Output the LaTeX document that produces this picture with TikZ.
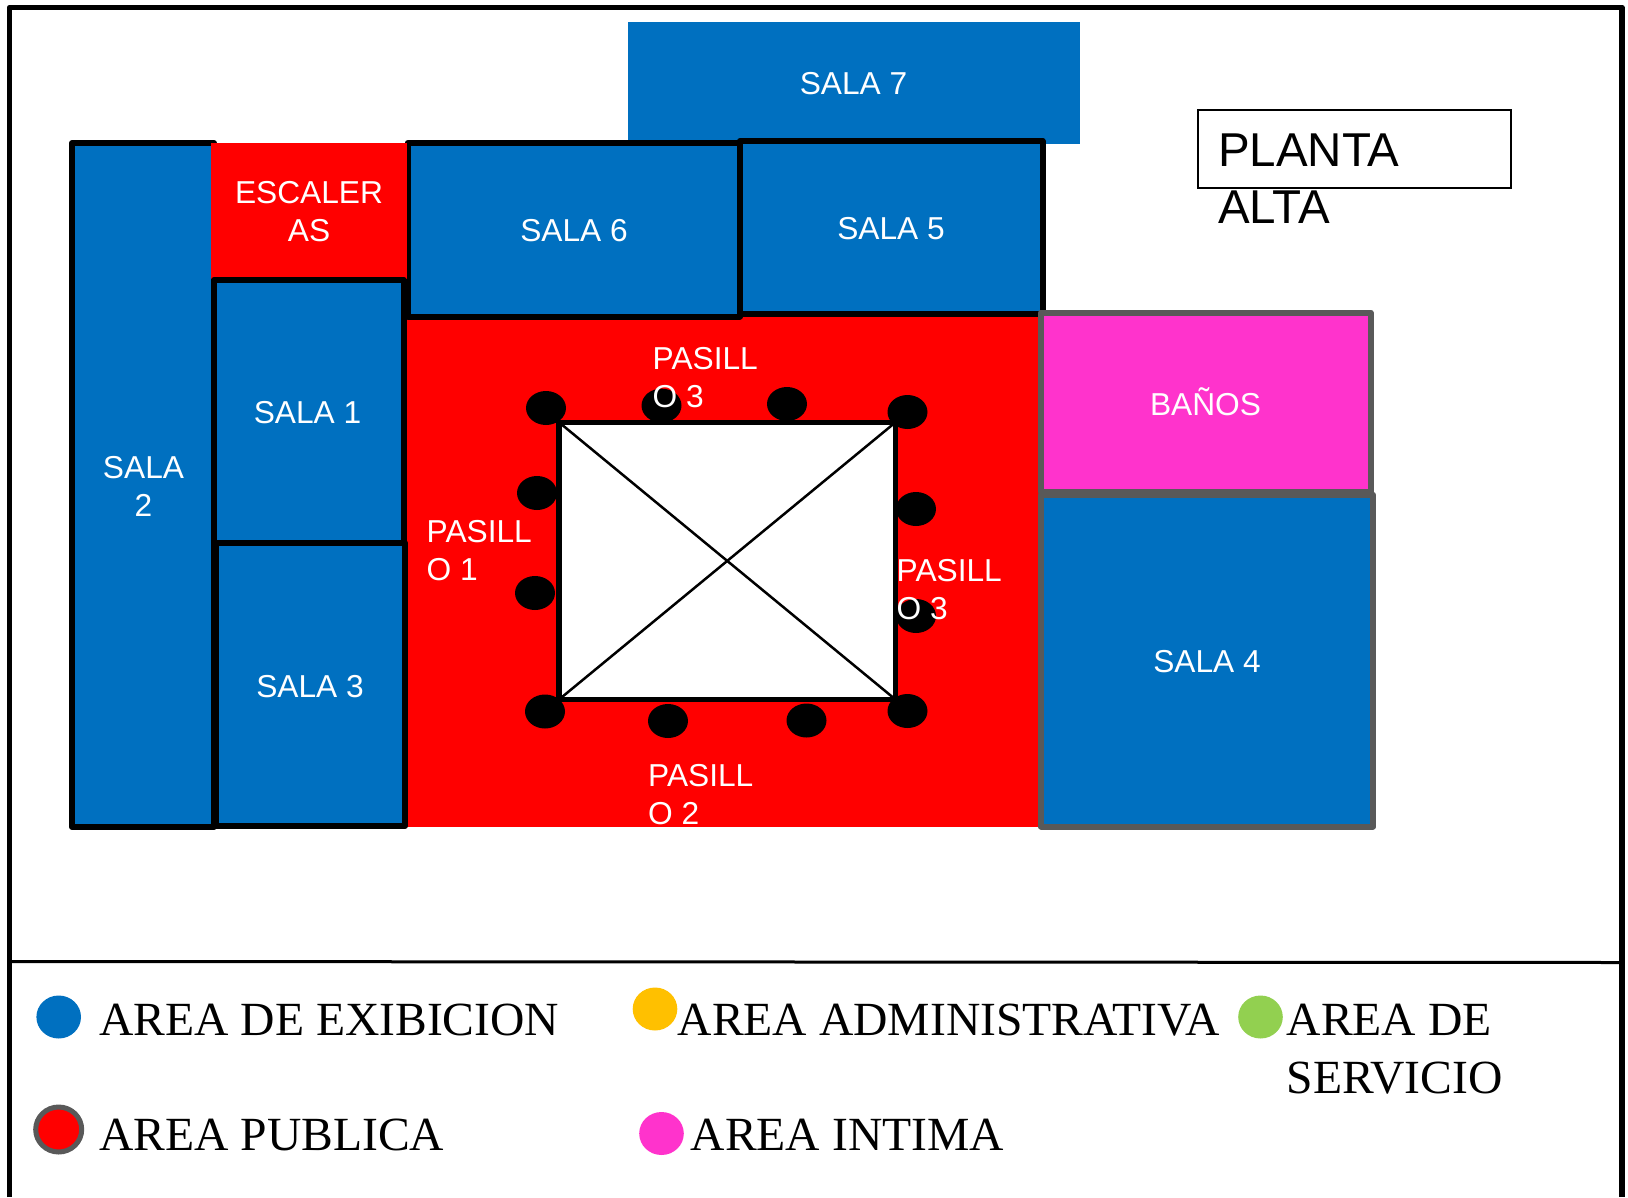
\documentclass[tikz,border=0pt]{standalone}
\usepackage{fontspec}
\setmainfont{Liberation Serif}
\newfontfamily\hsans{Liberation Sans}
\definecolor{roomblue}{HTML}{0070C0}
\definecolor{hallred}{HTML}{FF0000}
\definecolor{bathpink}{HTML}{FF33CC}
\definecolor{adminyellow}{HTML}{FFC000}
\definecolor{servgreen}{HTML}{92D050}
\definecolor{edgegray}{HTML}{595959}
\tikzset{
  room/.style={fill=roomblue,draw=black,line width=6pt,line join=round},
  grayroom/.style={draw=edgegray,line width=6pt,line join=round},
  lbl/.style={text=white,font=\hsans\fontsize{31.7}{38}\selectfont,inner sep=0pt,anchor=base,align=center},
  lbll/.style={lbl,anchor=base west,align=left},
  legendtxt/.style={text=black,font=\fontsize{47.6}{58}\selectfont,inner sep=0pt,anchor=base west,align=left},
  column/.style={fill=black,draw=none,ellipse,minimum width=40pt,minimum height=34pt,inner sep=0pt},
  swatch/.style={draw=none,ellipse,minimum width=44.6pt,minimum height=43pt,inner sep=0pt},
}
\usetikzlibrary{shapes.geometric}
\begin{document}
\begin{tikzpicture}[x=1pt,y=-1pt]
\useasboundingbox (0,0) rectangle (1628,1197);
\fill[white] (0,0) rectangle (1628,1197);
% outer frame and legend divider
\draw[black,line width=5.5pt,line join=round] (9.5,1197) -- (9.5,7.5) -- (1622,7.5) -- (1622,1197);
\draw[black,line width=3pt] (9.5,961.5) -- (1622,962.5);
% rooms
\fill[roomblue] (628,22) rectangle (1080,144);
\fill[hallred] (403,314) rectangle (1041,827);
\draw[room] (72,143) rectangle (214,827);
\draw[room] (407.5,143) rectangle (740,316.5);
\draw[room] (740,141) rectangle (1042.5,314);
\fill[hallred] (211,143) rectangle (407,279);
\draw[room] (214,280) rectangle (403.5,543);
\draw[room] (215.5,543) rectangle (405,826);
\draw[grayroom,fill=bathpink] (1041,312.5) rectangle (1370.5,492);
\draw[grayroom,fill=roomblue] (1041,494.5) rectangle (1373,826.5);
% columns
\foreach \n/\cx/\cy in {a/546/408,b/661.5/405.6,c/787/404,d/907.5/412,e/537/493,f/535/593,g/916/509,h/916/616,i/545/711.5,j/668/721,k/806.5/720.5,l/907.5/711}
  \node[column] (col\n) at (\cx,\cy) {};
% central void
\draw[black,line width=5.5pt,fill=white,line join=round] (559,422.3) rectangle (895.5,699.5);
\draw[black,line width=2.5pt] (559,422.3) -- (895.5,699.5);
\draw[black,line width=2.5pt] (559,699.5) -- (895.5,422.3);
% room labels
\node[lbl] (s7) at (853.5,94) {SALA 7};
\node[lbl] (s6) at (574,241.5) {SALA 6};
\node[lbl] (s5) at (891,239) {SALA 5};
\node[lbl] (s1) at (307.5,423) {SALA 1};
\node[lbl] (s3) at (310,697.5) {SALA 3};
\node[lbl] (s4) at (1207,672) {SALA 4};
\node[lbl] (ban) at (1205.5,415) {BAÑOS};
\node[lbl] (s2) at (143.5,516) {SALA\\2};
\node[lbl] (esc) at (309,241) {ESCALER\\AS};
\node[lbll] (p3a) at (652.5,407) {PASILL\\O 3};
\node[lbll] (p1) at (426.5,580) {PASILL\\O 1};
\node[lbll] (p2) at (648,824) {PASILL\\O 2};
\node[lbll] (p3b) at (896.5,619) {PASILL\\O 3};
% title
\node[draw=black,line width=2pt,fill=white,minimum width=313pt,minimum height=78pt,inner sep=0pt] (titlebox) at (1354.5,149) {};
\node[text=black,font=\hsans\fontsize{47.5}{57.5}\selectfont,inner sep=0pt,anchor=base west,align=left] (title) at (1218,223.5) {PLANTA\\ALTA};
% legend
\node[swatch,fill=roomblue] (kblue) at (58.7,1017) {};
\node[swatch,fill=adminyellow] (kyellow) at (655,1009) {};
\node[swatch,fill=servgreen] (kgreen) at (1260.5,1017) {};
\node[swatch,fill=bathpink] (kpink) at (661.5,1133.5) {};
\node[swatch,fill=hallred,draw=edgegray,line width=5pt,minimum width=46pt,minimum height=45pt] (kred) at (58.7,1129.5) {};
\node[legendtxt] (t1) at (99,1035.5) {AREA DE EXIBICION};
\node[legendtxt] (t2) at (677.5,1035.5) {AREA ADMINISTRATIVA};
\node[legendtxt] (t3) at (1286.5,1093.5) {AREA DE\\SERVICIO};
\node[legendtxt] (t4) at (99,1150.5) {AREA PUBLICA};
\node[legendtxt] (t5) at (690.5,1150.5) {AREA INTIMA};
\end{tikzpicture}
\end{document}
